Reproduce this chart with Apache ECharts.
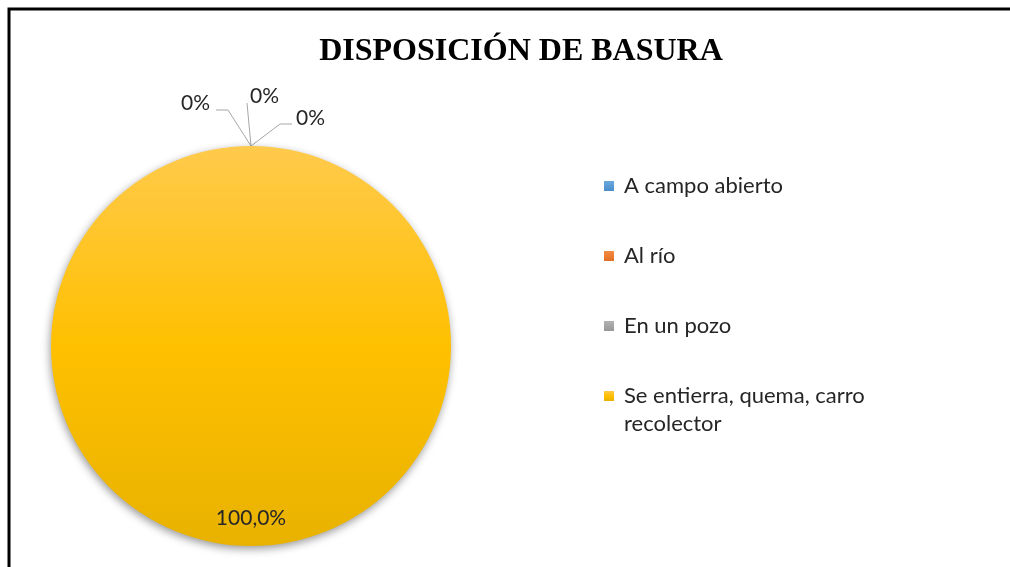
<!DOCTYPE html>
<html>
<head>
<meta charset="utf-8">
<script src="https://cdn.jsdelivr.net/npm/echarts@6/dist/echarts.min.js"></script>
<style>
html, body { margin: 0; padding: 0; background: #fff; }
#main { width: 1010px; height: 567px; }
</style>
</head>
<body>
<div id="main"></div>
<script>
var categories = ['A campo abierto', 'Al río', 'En un pozo', 'Se entierra, quema, carro recolector'];
var values = [0, 0, 0, 100];
var colorsTop = ['#6aa7dd', '#f08a44', '#b2b2b2', '#ffca4c'];
var colorsMid = ['#5b9bd5', '#ed7d31', '#a5a5a5', '#ffc000'];
var colorsBottom = ['#4a8bc9', '#e06f25', '#969696', '#e8b200'];
var titleText = 'DISPOSICIÓN DE BASURA';

// where the small 0% labels sit, relative to the top of the pie (label anchor, elbow, end of line)
var labelOffsets = [
    { tx: -41, ty: -43, align: 'right', elbow: [-23, -36], end: [-35, -36] },
    { tx: -1, ty: -50, align: 'left', elbow: [-4, -43], end: null },
    { tx: 45, ty: -28, align: 'left', elbow: [29, -22], end: [41, -22] }
];

var chartDom = document.getElementById('main');
var myChart = echarts.init(chartDom);

function grad(i) {
    return new echarts.graphic.LinearGradient(0, 0, 0, 1, [
        { offset: 0, color: colorsTop[i] },
        { offset: 0.5, color: colorsMid[i] },
        { offset: 1, color: colorsBottom[i] }
    ]);
}

var pieData = categories.map(function (name, i) {
    var d = { name: name, value: values[i], itemStyle: { color: grad(i) } };
    if (values[i] > 0) {
        d.label = { position: 'inside' };
        d.labelLine = { show: false };
    }
    return d;
});

function fmtPct(p) {
    if (p === 0) return '0%';
    return p.toFixed(1).replace('.', ',') + '%';
}

var cx = 251, cy = 346, r = 200;

var option = {
    animation: false,
    title: {
        text: titleText,
        left: 516,
        top: 31,
        textAlign: 'center',
        textStyle: { fontFamily: 'Liberation Serif', fontWeight: 'bold', fontSize: 32, color: '#000' }
    },
    graphic: [{
        type: 'rect',
        shape: { x: 9, y: 9, width: 1020, height: 580 },
        style: { fill: null, stroke: '#000', lineWidth: 3 },
        silent: true
    }],
    legend: [{
        orient: 'vertical',
        left: 604,
        top: 172,
        padding: 0,
        itemWidth: 10,
        itemHeight: 10,
        itemGap: 42,
        icon: 'rect',
        data: categories.slice(0, 3),
        textStyle: { fontFamily: 'Lato', fontSize: 22, color: '#262626', lineHeight: 28, padding: [0, 0, 0, 5] }
    }, {
        // blank first line keeps the square level with the first line of text
        orient: 'vertical',
        left: 604,
        top: 354,
        padding: 0,
        itemWidth: 10,
        itemHeight: 10,
        icon: 'rect',
        data: categories.slice(3),
        formatter: function (name) { return '\nSe entierra, quema, carro\nrecolector'; },
        textStyle: { fontFamily: 'Lato', fontSize: 22, color: '#262626', lineHeight: 28, padding: [0, 0, 0, 5] }
    }],
    series: [{
        type: 'pie',
        center: [cx, cy],
        radius: r,
        startAngle: 90,
        clockwise: true,
        avoidLabelOverlap: false,
        data: pieData,
        itemStyle: {
            shadowBlur: 8,
            shadowOffsetY: 3,
            shadowOffsetX: -1,
            shadowColor: 'rgba(0,0,0,0.4)'
        },
        label: {
            formatter: function (p) { return fmtPct(p.percent); },
            fontFamily: 'Lato',
            fontSize: 21,
            color: '#262626'
        },
        labelLine: {
            lineStyle: { color: '#a6a6a6', width: 1 }
        },
        labelLayout: function (params) {
            var i = params.dataIndex;
            if (values[i] > 0) {
                return { x: cx, y: cy + r * 0.86, align: 'center', verticalAlign: 'middle' };
            }
            var o = labelOffsets[i];
            var ax = cx, ay = cy - r;
            var pts = [[ax, ay], [ax + o.elbow[0], ay + o.elbow[1]]];
            if (o.end) pts.push([ax + o.end[0], ay + o.end[1]]);
            return {
                x: ax + o.tx,
                y: ay + o.ty,
                align: o.align,
                verticalAlign: 'middle',
                labelLinePoints: pts
            };
        }
    }]
};

myChart.setOption(option);
</script>
</body>
</html>
